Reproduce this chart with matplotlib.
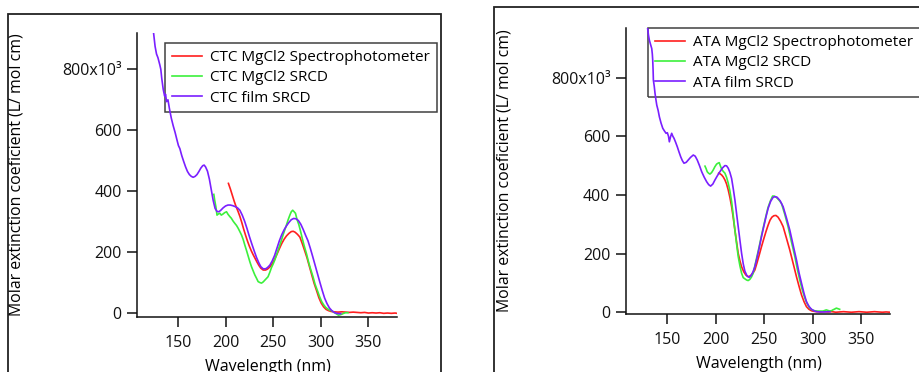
import matplotlib
matplotlib.use("Agg")
import matplotlib.pyplot as plt
from matplotlib.patches import Rectangle

plt.rcParams['font.family'] = ['Open Sans', 'DejaVu Sans']

# ---------------- CTC spectra ----------------
ctc_film_wl = [124, 126, 127.5, 129, 131, 132, 133, 134.5, 136, 137, 138, 139.5, 141, 143, 145, 147, 149,
               150.5, 152, 154, 156, 158, 160, 162, 164, 166, 168, 170, 172, 174, 176, 177.5, 179, 181, 183,
               185, 187, 189, 191, 193, 195, 197.5, 200, 202.5, 205, 207.5, 210, 212.5, 215, 217.5, 220,
               222.5, 225, 227.5, 230, 232.5, 235, 237, 239.5, 242, 244, 246.5, 249, 251.5, 254, 256.5, 259,
               261.5, 264, 266.5, 269, 271.5, 274, 276.5, 279, 281.5, 284, 286.5, 289, 291.5, 294, 296.5, 299,
               301.5, 304, 306.5, 309, 311.5, 314, 316.5, 319, 321]
ctc_film_val = [930, 875, 850, 838, 814, 800, 770, 735, 712, 718, 694, 700, 672, 640, 615, 593, 568,
                550, 540, 517, 498, 480, 465, 455, 449, 446, 449, 455, 465, 476, 484, 486, 480, 466, 440,
                405, 370, 344, 334, 333, 338, 346, 352, 355, 355, 353, 350, 346, 338, 322, 302,
                278, 252, 228, 205, 183, 165, 153, 146, 146, 150, 158, 172, 190, 214, 238, 258,
                274, 287, 298, 307, 311, 310, 304, 292, 275, 256, 238, 213, 186, 158, 130, 102,
                75, 50, 32, 18, 9, 3, 0, -1, -1]

ctc_mg_spec_wl = [203, 205, 207, 209, 211, 213, 215, 217, 219, 221, 223, 225, 227, 229, 231, 233, 235, 237,
                  239.5, 242, 244, 246.5, 249, 251.5, 254, 256.5, 259, 261.5, 264, 266.5, 269, 271, 273,
                  275.5, 278, 280.5, 283, 285.5, 288, 290.5, 293, 295.5, 298, 300.5, 303, 305.5, 308, 311,
                  314, 318, 322, 326, 330, 334, 338, 342, 346, 350, 354, 358, 362, 366, 370, 374, 378, 380]
ctc_mg_spec_val = [426, 408, 388, 368, 350, 335, 318, 298, 276, 256, 237, 220, 205, 192, 180, 168, 157, 148,
                   142, 142, 145, 152, 163, 177, 194, 212, 229, 243, 254, 262, 268, 269, 266,
                   259, 250, 229, 206, 182, 154, 126, 98, 75, 51, 33, 21, 13, 9, 6,
                   5, 4, 5, 4, 3, 4, 3, 2, 3, 1, 2, 1, 2, 0, 1, 0, 1, 0]

ctc_mg_srcd_wl = [187.7, 188.5, 189.8, 191, 192.5, 194, 195.5, 197.5, 199, 201, 202.5, 204.5, 206, 208, 209.7,
                  211.5, 213.2, 215, 216.7, 218.5, 220.2, 222, 223.7, 225.5, 227.2, 229, 230.7, 232.5, 234.2,
                  236, 237.7, 239.5, 241, 242.8, 244.6, 246.5, 248.2, 250, 251.7, 253.5, 255.2, 257, 258.7,
                  260.5, 262.2, 264, 265.6, 267.5, 269, 270.5, 272, 273.4, 275, 277, 278.5, 280.5, 282.5, 285,
                  287, 289, 291.8, 294, 296.5, 298.8, 301, 303, 305, 307, 309, 311, 313, 315, 317, 318.5, 320,
                  322, 324, 326, 328.5]
ctc_mg_srcd_val = [390, 372, 350, 322, 326, 328, 322, 326, 330, 333, 325, 317, 312, 302, 295,
                   288, 279, 268, 257, 242, 224, 206, 188, 169, 153, 139, 126, 115, 104,
                   101, 99, 103, 108, 114, 120, 135, 150, 162, 175, 192, 208, 224, 240,
                   258, 274, 290, 306, 322, 333, 338, 333, 328, 308, 290, 272, 246, 222, 195,
                   170, 148, 120, 95, 74, 54, 38, 28, 20, 15, 11, 9, 5, 1, -3, -6, -5,
                   -3, 0, 2, 2]

# ---------------- ATA spectra ----------------
ata_film_wl = [129.4, 130.5, 131.4, 132.5, 133.9, 134.5, 134.9, 135.3, 135.6, 136.5, 137.3, 138.2, 139.1,
               140.5, 141.8, 143.5, 145.3, 147, 148.7, 150, 151.2, 152.1, 153.3, 154.5, 155.7, 156.9, 158.5,
               160.3, 162, 163.8, 165.5, 167.2, 169.5, 171.6, 174, 176.8, 178.8, 180.9, 183.2, 185.5, 188,
               190.6, 192.7, 194.7, 197, 199.2, 201.8, 204.3, 207, 209.5, 211.2, 212.9, 214.6, 216.4, 218.1,
               219.8, 221.5, 223.2, 225, 226.7, 228.4, 230.1, 232.3, 234.5, 236.5, 238.4, 240.4, 242.7, 245,
               247.3, 249.6, 251.9, 254.1, 256.7, 259.3, 261.3, 263.4, 266.5, 269.6, 273, 276.5, 280, 283.4,
               286, 288.6, 291.2, 293.7, 296.3, 298.9, 301.5, 304, 308, 312, 316, 318]
ata_film_val = [975, 945, 928, 915, 899, 880, 860, 825, 791, 770, 746, 725, 706,
                688, 666, 645, 627, 618, 610, 612, 600, 581, 598, 610, 600, 593, 580,
                564, 547, 530, 517, 508, 511, 519, 528, 536, 532, 519, 500, 479, 461,
                445, 435, 430, 437, 451, 466, 479, 492, 500, 499, 491, 477, 456, 421,
                383, 337, 292, 245, 201, 165, 140, 124, 119, 125, 137, 155, 186, 221,
                258, 292, 325, 354, 378, 392, 394, 392, 380, 360, 322, 280, 228, 178,
                135, 99, 64, 36, 20, 10, 5, 2, 1, 1, 2, 2]

ata_mg_spec_wl = [203, 204.5, 206.1, 207.8, 209.5, 211.2, 212.9, 214.6, 216.4, 218.1, 219.8, 221.5, 223.2,
                  225, 226.7, 228.9, 231.1, 233.5, 235.8, 238.1, 240.4, 242.7, 245, 247.3, 249.6, 251.9,
                  254.1, 256.1, 258, 260, 262.2, 264.4, 267, 269.6, 273, 276.5, 280, 283.4, 286, 288.6,
                  291.2, 293.7, 296.3, 298.9, 301.5, 304, 308, 312, 316, 320, 324, 328, 332, 336, 340, 344,
                  348, 352, 356, 360, 364, 368, 372, 376, 380]
ata_mg_spec_val = [474, 472, 468, 461, 451, 437, 417, 392, 360, 322, 280, 240, 201,
                   175, 155, 138, 127, 121, 124, 132, 144, 169, 196, 224, 250, 275,
                   297, 314, 324, 329, 330, 324, 310, 292, 253, 212, 166, 121, 89, 59,
                   36, 19, 10, 5, 3, 2, 1, 2, 1, 2, 0, 1, 2, 1, 0, 1,
                   2, 1, 0, 1, 2, 1, 0, 1, 0]

ata_mg_srcd_wl = [188.9, 190, 191.2, 192.6, 194, 195.7, 197.4, 199.1, 200.9, 202.3, 203.6, 204.9, 206.1,
                  207.8, 209.5, 211.2, 212.9, 214.6, 216.4, 218.1, 219.8, 221.5, 223.2, 225, 226.7, 228.4,
                  230.1, 231.8, 233.5, 235.2, 236.9, 238.7, 240.4, 242.1, 243.9, 245.6, 247.3, 249, 250.8,
                  252.5, 254.1, 256.4, 258.7, 260.5, 262.4, 265.2, 267.9, 271.3, 274.7, 278.2, 281.7, 284.2,
                  286.8, 289.4, 292, 294.6, 297.1, 299.7, 302.3, 305, 308, 310.8, 312.5, 314.2, 316, 317.7,
                  319.4, 321, 322.9, 324.6, 326.3, 328]
ata_mg_srcd_val = [498, 490, 479, 474, 471, 476, 485, 496, 505, 508, 510, 498, 488,
                   480, 474, 460, 440, 414, 377, 330, 280, 234, 190, 158, 133, 118,
                   114, 110, 108, 112, 120, 133, 158, 183, 209, 235, 262, 287, 313,
                   337, 358, 379, 396, 396, 392, 383, 371, 334, 292, 240, 190, 148,
                   110, 76, 48, 28, 14, 8, 5, 4, 4, 4, 6, 8, 6, 4,
                   5, 8, 11, 14, 12, 10]

y_ticks = [0, 200, 400, 600, 800]
y_tick_labels = ['0', '200', '400', '600', '800x10\u00b3']
x_ticks = [150, 200, 250, 300, 350]

ctc_labels = ['CTC MgCl2 Spectrophotometer', 'CTC MgCl2 SRCD', 'CTC film SRCD']
ata_labels = ['ATA MgCl2 Spectrophotometer', 'ATA MgCl2 SRCD', 'ATA film SRCD']

RED = '#ff1f1f'
GREEN = '#3cf03c'
PURPLE = '#7a1fff'

W, H = 920, 372
fig = plt.figure(figsize=(W / 100, H / 100), dpi=100)


def px_axes(x0, x1, y0, y1):
    return fig.add_axes([x0 / W, 1 - y1 / H, (x1 - x0) / W, (y1 - y0) / H])


def style(ax, ylim, xlabel_coords, ylabel_coords):
    ax.set_xlim(107, 380)
    ax.set_ylim(*ylim)
    for s in ('top', 'right'):
        ax.spines[s].set_visible(False)
    for s in ('left', 'bottom'):
        ax.spines[s].set_linewidth(1.1)
        ax.spines[s].set_color('#111111')
    ax.set_xticks(x_ticks)
    ax.set_yticks(y_ticks)
    ax.set_yticklabels(y_tick_labels)
    ax.tick_params(axis='both', direction='out', length=7, width=1.1, colors='#111111',
                   labelsize=11.5)
    ax.tick_params(axis='x', pad=6)
    ax.tick_params(axis='y', pad=4)
    ax.set_xlabel('Wavelength (nm)', fontsize=11.5)
    ax.set_ylabel('Molar extinction coeficient (L/ mol cm)', fontsize=11.4)
    ax.xaxis.set_label_coords(*xlabel_coords)
    ax.yaxis.set_label_coords(*ylabel_coords)
    ax.patch.set_alpha(0)


def legend(ax, handles, labels, x, y):
    leg = ax.legend(handles, labels, loc='upper left',
                    bbox_to_anchor=(x / W, 1 - y / H), bbox_transform=fig.transFigure,
                    borderaxespad=0, fancybox=False, frameon=True, edgecolor='#111111',
                    facecolor='none', framealpha=None,
                    fontsize=11, handlelength=2.0, handletextpad=0.5, labelspacing=0.35,
                    borderpad=0.45)
    leg.get_frame().set_linewidth(1.1)
    leg.set_zorder(1)
    return leg


# Left panel: CTC
ax1 = px_axes(137, 397, 33, 317)
l1, = ax1.plot(ctc_mg_spec_wl, ctc_mg_spec_val, color=RED, lw=1.2, zorder=3)
l2, = ax1.plot(ctc_mg_srcd_wl, ctc_mg_srcd_val, color=GREEN, lw=1.2, zorder=3)
l3, = ax1.plot(ctc_film_wl, ctc_film_val, color=PURPLE, lw=1.2, zorder=3)
style(ax1, (-12, 919), (0.504, -0.147), (-0.431, 0.5))
legend(ax1, [l1, l2, l3], ctc_labels, 165, 43)

# Right panel: ATA
ax2 = px_axes(625.7, 890, 28, 314)
r1, = ax2.plot(ata_mg_spec_wl, ata_mg_spec_val, color=RED, lw=1.2, zorder=3)
r2, = ax2.plot(ata_mg_srcd_wl, ata_mg_srcd_val, color=GREEN, lw=1.2, zorder=3)
r3, = ax2.plot(ata_film_wl, ata_film_val, color=PURPLE, lw=1.2, zorder=3)
style(ax2, (-6, 969), (0.504, -0.148), (-0.430, 0.503))
legend(ax2, [r1, r2, r3], ata_labels, 648, 28)

# Panel frames
fig.add_artist(Rectangle((8 / W, -0.2), (441 - 8) / W, 1.2 - 13.5 / H, transform=fig.transFigure,
                         fill=False, edgecolor='#222222', lw=1.3, clip_on=False))
fig.add_artist(Rectangle((494 / W, -0.2), 0.5, 1.2 - 7 / H, transform=fig.transFigure,
                         fill=False, edgecolor='#222222', lw=1.3, clip_on=False))

fig.savefig('out.png', dpi=100, facecolor='white')
